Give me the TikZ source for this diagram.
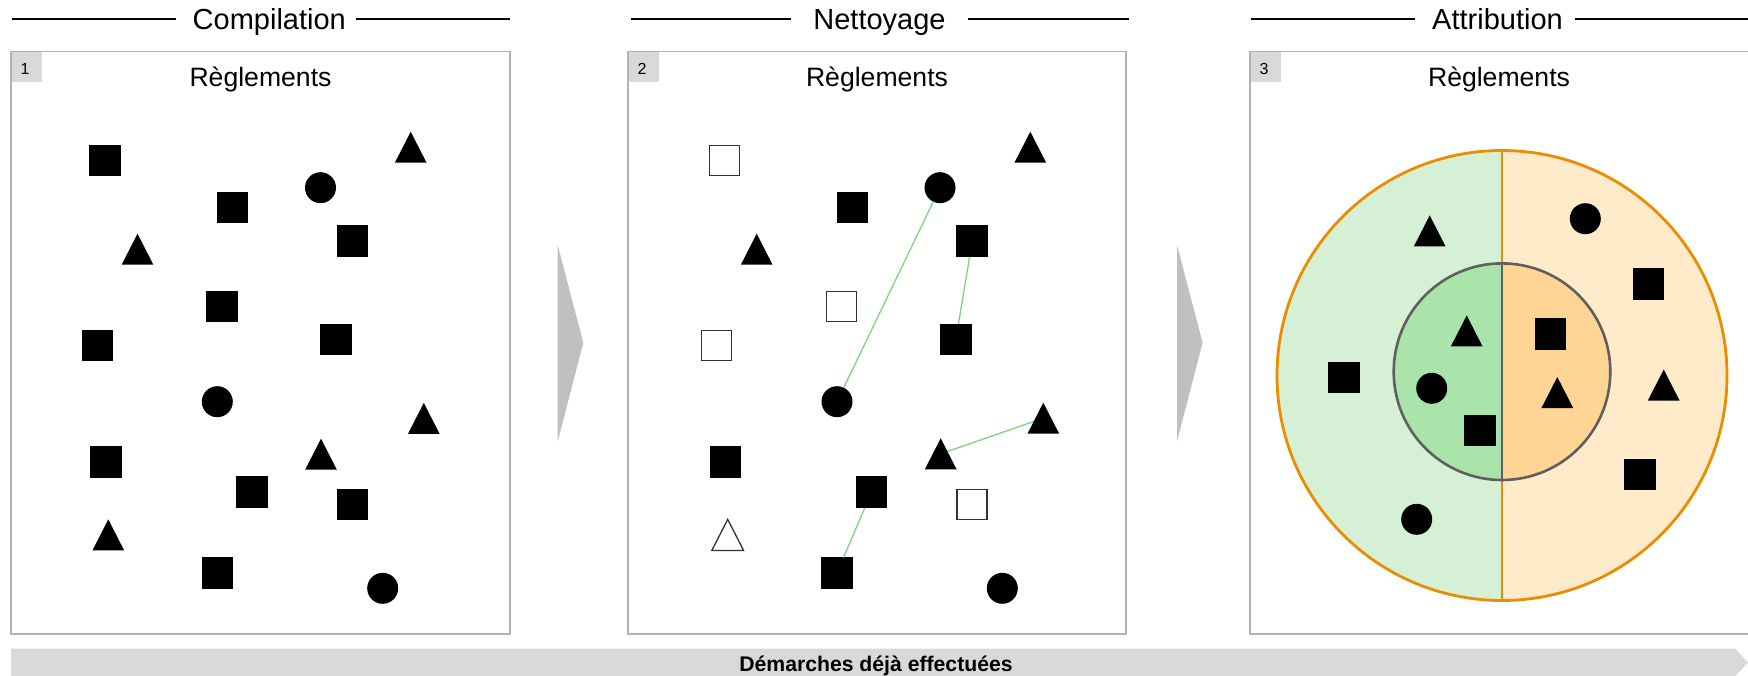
\documentclass[tikz,border=0pt]{standalone}
\usepackage{fontspec}
\setmainfont{Liberation Sans}
\definecolor{panelgray}{RGB}{178,178,178}
\definecolor{numgray}{RGB}{217,217,217}
\definecolor{arrowgray}{RGB}{192,192,192}
\definecolor{linkgreen}{RGB}{125,212,125}
\definecolor{outerorange}{RGB}{236,140,0}
\definecolor{lightgreen}{RGB}{213,240,213}
\definecolor{midgreen}{RGB}{170,228,170}
\definecolor{lightorange}{RGB}{255,234,202}
\definecolor{midorange}{RGB}{255,213,150}
\definecolor{innergray}{RGB}{95,95,95}
\definecolor{opengray}{RGB}{50,50,50}
\newcommand{\mytri}[3][fill=black]{%
  \coordinate (#2) at #3;
  \path[#1,shift={(#2)}] (-15.85,15.5) -- (0,-15.5) -- (15.85,15.5) -- cycle;}
\tikzset{
  panel/.style={draw=panelgray, line width=1.3pt, fill=white},
  numbox/.style={fill=numgray, draw=none},
  numtext/.style={font=\fontsize{16}{19}\selectfont, anchor=base west, inner sep=0pt},
  titletext/.style={font=\fontsize{29}{34}\selectfont, anchor=base, inner sep=0pt},
  subtext/.style={font=\fontsize{26.6}{32}\selectfont, anchor=base, inner sep=0pt},
  titleline/.style={line width=1.3pt, black},
  sq/.style={rectangle, fill=black, minimum size=31.5pt, inner sep=0pt, outer sep=0pt},
  osq/.style={rectangle, draw=opengray, line width=1.3pt, fill=white, minimum size=30pt, inner sep=0pt},
  dot/.style={circle, fill=black, minimum size=31pt, inner sep=0pt, outer sep=0pt},
  link/.style={draw=linkgreen, line width=1.3pt},
  chev/.style={fill=arrowgray, draw=none},
}
\begin{document}
\begin{tikzpicture}[x=1pt,y=-1pt]
\useasboundingbox (0,0) rectangle (1748,676);
% ---------- titles ----------
\node[titletext] (t1) at (269.3,30) {Compilation};
\coordinate (t1a) at (12,19); \coordinate (t1b) at (176,19);
\coordinate (t1c) at (356,19); \coordinate (t1d) at (510,19);
\draw[titleline] (t1a) -- (t1b); \draw[titleline] (t1c) -- (t1d);
\node[titletext] (t2) at (879.5,30) {Nettoyage};
\coordinate (t2a) at (631,19); \coordinate (t2b) at (791,19);
\coordinate (t2c) at (968,19); \coordinate (t2d) at (1129,19);
\draw[titleline] (t2a) -- (t2b); \draw[titleline] (t2c) -- (t2d);
\node[titletext] (t3) at (1497.5,30) {Attribution};
\coordinate (t3a) at (1251,19); \coordinate (t3b) at (1415,19);
\coordinate (t3c) at (1575,19); \coordinate (t3d) at (1748,19);
\draw[titleline] (t3a) -- (t3b); \draw[titleline] (t3c) -- (t3d);
% ---------- panels ----------
\draw[panel] (11,51.7) rectangle (510,634);
\draw[panel] (628,51.7) rectangle (1126,634);
\draw[panel] (1250,51.7) rectangle (1749,634);
\fill[numbox] (11.7,52.4) rectangle (41.7,81.7);
\fill[numbox] (628.7,52.4) rectangle (658.7,81.7);
\fill[numbox] (1250.7,52.4) rectangle (1280.7,81.7);
\node[numtext] (n1) at (20.5,74.5) {1};
\node[numtext] (n2) at (637.5,74.5) {2};
\node[numtext] (n3) at (1259.5,74.5) {3};
\node[subtext] (r1) at (260.5,86.5) {Règlements};
\node[subtext] (r2) at (877,86.5) {Règlements};
\node[subtext] (r3) at (1499,86.5) {Règlements};
% ---------- chevrons between panels ----------
\fill[chev] (557.7,245) -- (583.3,342.7) -- (557.7,441.7) -- cycle;
\fill[chev] (1177,245) -- (1202.6,342.7) -- (1177,441.7) -- cycle;
% ---------- bottom bar ----------
\fill[numgray] (11,648.5) -- (1735,648.5) -- (1748,662.5) -- (1735,676.5) -- (11,676.5) -- cycle;
\node[font=\bfseries\fontsize{21.2}{25}\selectfont, anchor=base, inner sep=0pt] (bar) at (876,671.7) {Démarches déjà effectuées};
% ---------- panel 1 ----------
\node[sq] (a1) at (105.2,160.5) {};
\node[sq] (a2) at (232.7,207.5) {};
\node[sq] (a3) at (352.5,241) {};
\node[sq] (a4) at (221.8,306.3) {};
\node[sq] (a5) at (97.5,345.7) {};
\node[sq] (a6) at (335.8,339.7) {};
\node[sq] (a7) at (106,462) {};
\node[sq] (a8) at (252,492) {};
\node[sq] (a9) at (352.5,504.5) {};
\node[sq] (a10) at (217.7,573) {};
\node[dot] (ac1) at (320.5,187.7) {};
\node[dot] (ac2) at (217.3,401.7) {};
\node[dot] (ac3) at (382.7,588.3) {};
\mytri{at1}{(410.7,147.2)}
\mytri{at2}{(137.5,249.2)}
\mytri{at3}{(423.8,418.4)}
\mytri{at4}{(321,454.2)}
\mytri{at5}{(108.3,534.9)}
% ---------- panel 2 ----------
\coordinate (bt3) at (1043.3,418.2);
\coordinate (bt4) at (940.7,453.8);
\draw[link] (bt4) -- (bt3);
\node[osq] (b1) at (724.8,160.7) {};
\node[sq] (b2) at (852.3,207.5) {};
\node[sq] (b3) at (972.2,241.2) {};
\node[osq] (b4) at (841.3,306.2) {};
\node[osq] (b5) at (716.8,345.8) {};
\node[sq] (b6) at (955.8,339.7) {};
\node[sq] (b7) at (725.7,462.2) {};
\node[sq] (b8) at (871.5,492.2) {};
\node[osq] (b9) at (972,504.5) {};
\node[sq] (b10) at (836.8,573.2) {};
\node[dot] (bc1) at (940,187.7) {};
\node[dot] (bc2) at (837,401.7) {};
\node[dot] (bc3) at (1002.3,588.3) {};
\mytri{bt1}{(1030.3,147.2)}
\mytri{bt2}{(756.7,249.2)}
\path[fill=black,shift={(bt3)}] (-15.85,15.5) -- (0,-15.5) -- (15.85,15.5) -- cycle;
\path[fill=black,shift={(bt4)}] (-15.85,15.5) -- (0,-15.5) -- (15.85,15.5) -- cycle;
\mytri[draw=opengray,line width=1.3pt,fill=white]{bt5}{(727.7,534.9)}
\draw[link] (bc1) -- (bc2);
\draw[link] (b3) -- (b6);
\draw[link] (b8) -- (b10);
% ---------- panel 3 ----------
\node[circle, minimum size=450pt, inner sep=0pt, draw=outerorange, line width=2.8pt,
  path picture={
    \fill[lightgreen] (path picture bounding box.south west) rectangle (path picture bounding box.north);
    \fill[lightorange] (path picture bounding box.north) rectangle (path picture bounding box.south east);
  }] (outer) at (1502,375.5) {};
\draw[draw=outerorange, line width=2.8pt] (outer.north) -- (outer.south);
\node[circle, minimum size=216.6pt, inner sep=0pt, draw=innergray, line width=2.6pt,
  path picture={
    \fill[midgreen] (path picture bounding box.south west) rectangle (path picture bounding box.north);
    \fill[midorange] (path picture bounding box.north) rectangle (path picture bounding box.south east);
  }] (inner) at (1502,371.7) {};
\draw[draw=innergray, line width=2.6pt] (inner.north) -- (inner.south);
\node[sq] (c1) at (1343.8,377.7) {};
\node[sq] (c2) at (1648.5,283.8) {};
\node[sq] (c3) at (1550.7,333.8) {};
\node[sq] (c4) at (1480,430.5) {};
\node[sq] (c5) at (1640,474.5) {};
\node[dot] (cc1) at (1585.3,218.7) {};
\node[dot] (cc2) at (1431.7,388.3) {};
\node[dot] (cc3) at (1416.7,519.3) {};
\mytri{ct1}{(1429.7,230.9)}
\mytri{ct2}{(1466.7,330.9)}
\mytri{ct3}{(1557.3,392.5)}
\mytri{ct4}{(1663.7,385)}
\end{tikzpicture}
\end{document}
